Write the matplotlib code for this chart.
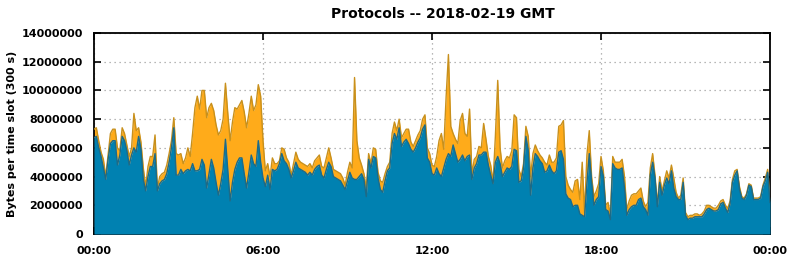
import numpy as np
import matplotlib
matplotlib.use("Agg")
import matplotlib.pyplot as plt

# 5-minute slots, 00:00 .. 24:00 (values in millions of bytes per slot)
blue_mb = [
    6.7, 6.8, 6.0, 5.4, 4.6, 3.8, 5.2, 6.3, 6.5, 6.5, 4.8, 5.5,
    6.8, 6.5, 5.8, 4.8, 5.5, 6.0, 5.7, 6.8, 5.9, 3.8, 3.0, 4.0,
    4.7, 4.7, 5.6, 3.0, 3.5, 3.7, 3.8, 4.2, 5.0, 6.0, 7.4, 4.1,
    4.1, 4.5, 4.2, 4.4, 4.5, 4.4, 4.9, 4.4, 4.4, 4.5, 5.2, 4.8,
    3.2, 4.2, 5.2, 4.6, 3.6, 2.7, 3.5, 4.5, 6.6, 4.4, 2.3, 3.6,
    4.5, 5.0, 5.3, 5.3, 4.2, 3.2, 4.3, 5.5, 4.9, 4.7, 6.5, 5.0,
    3.9, 3.3, 4.1, 3.1, 4.5, 4.4, 4.5, 4.9, 5.6, 5.1, 4.9, 4.5,
    3.9, 4.4, 5.0, 4.6, 4.5, 4.4, 4.3, 4.1, 4.3, 4.1, 4.5, 4.7,
    4.8, 4.1, 3.9, 4.5, 5.0, 4.7, 4.0, 3.9, 3.8, 3.7, 3.4, 3.1,
    3.7, 4.3, 3.9, 3.8, 3.8, 4.0, 4.2, 3.8, 2.6, 5.2, 4.6, 5.4,
    5.3, 3.9, 3.1, 2.9, 3.7, 4.4, 4.6, 6.3, 7.0, 6.6, 7.4, 6.1,
    6.4, 6.6, 6.3, 5.9, 5.7, 6.0, 6.4, 6.7, 7.3, 7.6, 5.3, 5.0,
    4.2, 4.1, 4.6, 4.2, 4.0, 4.6, 5.2, 5.6, 5.4, 6.2, 5.6, 5.0,
    5.2, 5.5, 5.1, 5.4, 5.5, 3.8, 4.6, 4.9, 5.5, 5.5, 5.7, 5.7,
    4.8, 4.1, 3.5, 5.0, 5.4, 4.9, 4.0, 4.3, 4.6, 4.5, 4.7, 5.9,
    5.8, 3.6, 3.7, 4.6, 6.8, 5.8, 2.7, 4.6, 5.6, 5.4, 5.1, 4.9,
    4.3, 4.4, 4.8, 4.4, 4.2, 4.4, 5.7, 5.8, 5.2, 2.8, 2.5, 2.4,
    1.9, 2.0, 2.0, 1.4, 1.3, 1.2, 3.5, 5.6, 3.6, 2.0, 2.4, 2.6,
    4.7, 4.0, 1.7, 1.6, 1.0, 4.9, 4.6, 4.5, 4.5, 4.6, 3.2, 1.3,
    1.7, 1.9, 2.0, 2.0, 2.4, 2.5, 1.9, 1.7, 1.3, 4.1, 5.0, 3.9,
    1.9, 3.6, 2.7, 3.4, 3.9, 3.5, 4.4, 3.2, 2.6, 2.4, 2.4, 3.6,
    1.3, 1.0, 1.1, 1.1, 1.2, 1.2, 1.2, 1.2, 1.4, 1.7, 1.8, 1.7,
    1.6, 1.6, 1.7, 2.1, 2.2, 1.8, 1.5, 2.1, 3.6, 4.1, 4.4, 3.1,
    2.5, 2.4, 2.7, 3.4, 3.3, 2.4, 2.4, 2.4, 2.5, 3.3, 3.7, 4.3,
    2.2,
]

total_mb = [
    7.3, 7.4, 6.5, 5.7, 5.2, 4.0, 5.5, 7.0, 7.3, 7.3, 6.0, 5.8,
    7.4, 7.0, 6.2, 5.4, 6.0, 8.4, 7.2, 7.4, 6.4, 4.6, 3.3, 4.7,
    5.4, 5.4, 6.9, 3.2, 4.0, 4.2, 4.3, 4.8, 5.6, 6.5, 8.1, 5.6,
    5.5, 5.6, 4.9, 5.3, 6.0, 5.4, 7.0, 8.8, 9.6, 8.7, 10.0, 10.0,
    8.1, 8.8, 9.1, 8.6, 7.6, 6.9, 7.2, 8.0, 10.5, 8.4, 6.5, 7.8,
    8.8, 8.7, 9.0, 9.3, 8.5, 7.4, 8.4, 9.6, 8.6, 9.0, 10.4, 9.6,
    6.5, 4.4, 4.9, 4.0, 5.3, 4.9, 4.9, 5.1, 6.0, 5.9, 5.3, 5.0,
    4.1, 4.9, 5.7, 5.2, 5.0, 4.9, 4.8, 4.7, 4.9, 4.6, 5.1, 5.3,
    5.5, 4.7, 4.6, 5.3, 6.0, 5.3, 4.5, 4.4, 4.3, 4.2, 3.9, 3.4,
    4.3, 5.0, 4.6, 10.9, 6.5, 5.3, 4.8, 4.2, 3.2, 5.6, 4.9, 6.0,
    5.9, 4.3, 3.7, 3.6, 4.2, 4.7, 5.0, 7.0, 7.8, 7.2, 8.0, 6.7,
    7.0, 7.3, 7.3, 6.4, 6.1, 6.5, 6.9, 7.2, 8.0, 8.3, 6.0, 5.6,
    4.8, 4.7, 5.4, 6.5, 7.0, 5.9, 9.5, 12.5, 7.5, 7.0, 6.6, 6.3,
    7.9, 8.4, 7.0, 6.8, 8.7, 4.2, 5.2, 5.4, 6.1, 6.0, 7.7, 6.6,
    5.4, 4.8, 3.6, 6.8, 10.7, 6.0, 4.6, 5.1, 5.4, 5.3, 5.8, 8.3,
    8.1, 4.5, 4.0, 4.9, 7.5, 6.8, 4.0, 5.6, 6.2, 5.8, 5.5, 5.3,
    5.0, 4.8, 5.5, 5.0, 5.0, 5.3, 7.5, 7.6, 7.9, 4.0, 3.4, 3.1,
    2.9, 3.7, 3.8, 2.4, 5.0, 1.5, 5.5, 7.2, 4.0, 2.6, 3.0, 3.5,
    5.4, 4.4, 2.0, 2.2, 1.3, 5.4, 5.0, 5.0, 5.0, 5.2, 4.0, 1.7,
    2.3, 2.7, 2.8, 2.8, 3.0, 3.2, 2.3, 1.9, 2.2, 4.6, 5.6, 4.1,
    2.1, 4.0, 3.0, 3.7, 4.4, 3.9, 4.8, 3.9, 2.9, 2.5, 2.7, 3.9,
    1.5, 1.2, 1.3, 1.3, 1.4, 1.4, 1.3, 1.4, 1.6, 2.0, 2.0, 1.9,
    1.8, 1.8, 2.0, 2.3, 2.4, 2.0, 1.8, 2.3, 3.8, 4.4, 4.5, 3.3,
    2.6, 2.5, 2.8, 3.5, 3.4, 2.5, 2.5, 2.5, 2.6, 3.4, 3.9, 4.5,
    2.4,
]

hours = np.arange(len(blue_mb)) * 5 / 60.0
blue = np.array(blue_mb) * 1e6
total = np.array(total_mb) * 1e6

y_ticks = np.arange(0, 14000001, 2000000)
x_ticks = [0, 6, 12, 18, 24]
x_labels = ["00:00", "06:00", "12:00", "18:00", "00:00"]

plt.rcParams['font.family'] = 'DejaVu Sans'
plt.rcParams['font.weight'] = 'bold'

fig = plt.figure(figsize=(7.92, 2.59), dpi=100)
ax = fig.add_axes([94 / 792, 25 / 259, 676 / 792, 201 / 259])

ax.fill_between(hours, blue, total, color='#ffab1a', lw=0, zorder=2)
ax.plot(hours, total, color='#c8901c', lw=1.0, zorder=3)
ax.fill_between(hours, 0, blue, color='#0081b1', lw=0, zorder=4)
ax.plot(hours, blue, color='#1e6a86', lw=1.0, zorder=5)

ax.set_xlim(0, 24)
ax.set_ylim(0, 14000000)
ax.set_yticks(y_ticks)
ax.set_yticklabels([str(v) for v in y_ticks])
ax.set_xticks(x_ticks)
ax.set_xticklabels(x_labels)

ax.grid(True, color='#a0a0a0', linestyle=(0, (1, 3)), lw=0.9)
ax.set_axisbelow(True)
ax.tick_params(direction='in', length=5, width=1.2, top=True, right=True,
               labelsize=8, colors='black')
ax.tick_params(axis='y', pad=8)
ax.tick_params(axis='x', pad=9)
for s in ax.spines.values():
    s.set_linewidth(1.3)

ax.set_ylabel("Bytes per time slot (300 s)", fontsize=8, fontweight='bold', labelpad=3)
ax.set_title("Protocols -- 2018-02-19 GMT", fontsize=10, fontweight='bold',
             pad=11, x=0.516)

fig.savefig("out.png", dpi=100)
